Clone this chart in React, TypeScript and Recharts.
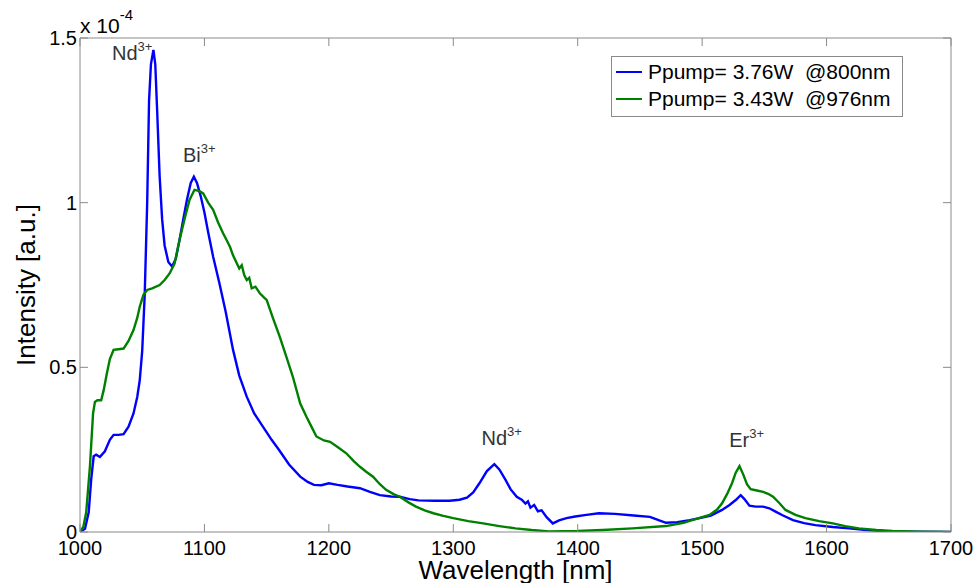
import React from "react";
import { LineChart, Line, XAxis, YAxis, Legend, ReferenceLine, ReferenceDot } from "recharts";

// wavelength (nm) / intensity (x 1e-4 a.u.)
const blueX = [1000, 1004, 1007, 1009, 1011, 1013, 1016, 1020, 1024, 1027, 1031, 1035, 1039, 1043, 1046, 1048, 1050, 1052, 1054, 1055.5, 1057, 1059, 1060.5, 1062, 1064, 1066, 1068, 1071, 1074, 1077, 1080, 1083, 1086, 1089, 1091.5, 1094, 1097, 1100, 1103, 1107, 1112, 1117, 1123, 1128, 1134, 1140, 1147, 1154, 1160, 1168, 1177, 1183, 1188, 1194, 1200, 1207, 1215, 1225, 1233, 1241, 1250, 1257, 1265, 1272, 1285, 1297, 1305, 1311, 1316, 1321, 1327, 1333, 1337, 1342, 1346, 1351, 1355, 1358, 1360, 1362, 1365, 1368, 1371, 1375, 1380, 1385, 1391, 1398, 1407, 1417, 1430, 1445, 1458, 1465, 1471, 1480, 1490, 1498, 1507, 1516, 1522, 1527, 1531, 1534, 1538, 1543, 1549, 1554, 1559, 1565, 1573, 1582, 1591, 1605, 1618, 1632, 1645, 1670, 1700];
const blueY = [0, 0.01, 0.06, 0.16, 0.23, 0.235, 0.228, 0.245, 0.28, 0.295, 0.295, 0.297, 0.32, 0.36, 0.41, 0.46, 0.55, 0.72, 1.0, 1.31, 1.42, 1.464, 1.42, 1.28, 1.08, 0.95, 0.87, 0.82, 0.806, 0.83, 0.887, 0.95, 1.01, 1.06, 1.079, 1.06, 1.02, 0.97, 0.91, 0.836, 0.756, 0.67, 0.553, 0.475, 0.411, 0.36, 0.32, 0.28, 0.249, 0.205, 0.168, 0.152, 0.143, 0.142, 0.148, 0.143, 0.138, 0.133, 0.122, 0.112, 0.108, 0.107, 0.1, 0.096, 0.095, 0.095, 0.098, 0.104, 0.12, 0.148, 0.185, 0.206, 0.19, 0.158, 0.13, 0.107, 0.098, 0.086, 0.093, 0.074, 0.082, 0.063, 0.066, 0.045, 0.026, 0.035, 0.042, 0.047, 0.052, 0.057, 0.055, 0.05, 0.046, 0.036, 0.028, 0.03, 0.036, 0.042, 0.05, 0.067, 0.082, 0.097, 0.112, 0.1, 0.08, 0.077, 0.077, 0.072, 0.062, 0.05, 0.036, 0.027, 0.021, 0.015, 0.011, 0.006, 0.003, 0.001, 0];

const greenX = [1000, 1002.7, 1005, 1008, 1010.5, 1012, 1014, 1017, 1019, 1021.5, 1024, 1027, 1031, 1035, 1039, 1043, 1046, 1048, 1051, 1054, 1058, 1064, 1068, 1072, 1076, 1080, 1084, 1088, 1092, 1096, 1099, 1103, 1107, 1111, 1115, 1118, 1120.5, 1123, 1126, 1128, 1130, 1132, 1134, 1136, 1138, 1141, 1144.5, 1148, 1150, 1155, 1160.5, 1166, 1171, 1177, 1182, 1186, 1190, 1196, 1201, 1207, 1214, 1220, 1225, 1230, 1235.5, 1241, 1246, 1252, 1257, 1264, 1270, 1277, 1284, 1292, 1300, 1312, 1324, 1337, 1350, 1363, 1377, 1400, 1420, 1444, 1471, 1485, 1492, 1500, 1506, 1512, 1516, 1520, 1524, 1527, 1530, 1533, 1536, 1539, 1544, 1549, 1553, 1557, 1562, 1567, 1575, 1583, 1594, 1605, 1615, 1626, 1640, 1653, 1675, 1700];
const greenY = [0, 0.016, 0.06, 0.2, 0.36, 0.395, 0.4, 0.4, 0.43, 0.48, 0.525, 0.553, 0.555, 0.557, 0.58, 0.613, 0.65, 0.684, 0.72, 0.735, 0.74, 0.75, 0.765, 0.785, 0.815, 0.887, 0.95, 1.008, 1.039, 1.035, 1.028, 1.0, 0.978, 0.94, 0.907, 0.885, 0.866, 0.84, 0.816, 0.8, 0.81, 0.78, 0.765, 0.772, 0.74, 0.745, 0.725, 0.712, 0.705, 0.65, 0.593, 0.53, 0.472, 0.39, 0.35, 0.32, 0.29, 0.278, 0.274, 0.258, 0.239, 0.215, 0.198, 0.183, 0.168, 0.145, 0.128, 0.115, 0.107, 0.09, 0.077, 0.066, 0.057, 0.049, 0.042, 0.033, 0.026, 0.018, 0.011, 0.006, 0.002, 0.003, 0.006, 0.011, 0.018, 0.028, 0.036, 0.045, 0.052, 0.068, 0.087, 0.115, 0.148, 0.18, 0.2, 0.175, 0.145, 0.13, 0.126, 0.122, 0.116, 0.107, 0.088, 0.067, 0.052, 0.042, 0.033, 0.026, 0.018, 0.011, 0.006, 0.003, 0.001, 0];

const xTicks = [1000, 1100, 1200, 1300, 1400, 1500, 1600, 1700];
const yTicks = [0, 0.5, 1, 1.5];

const seriesNames = ["Ppump= 3.76W  @800nm", "Ppump= 3.43W  @976nm"];
const seriesColors = ["#0000ff", "#008000"];

// peak labels: [x, y, main text]
const peakLabels: [number, number, string][] = [
  [1025.7, 1.433, "Nd"],
  [1082.7, 1.124, "Bi"],
  [1322.7, 0.264, "Nd"],
  [1521.8, 0.258, "Er"],
];

const blue = blueX.map((x, i) => ({ x, y: blueY[i] }));
const green = greenX.map((x, i) => ({ x, y: greenY[i] }));

const PW = 871;
const PH = 494;
const FONT = "'Liberation Sans', Arial, sans-serif";
const boxColor = "#8a8a8a";

function XTick(props: any) {
  const { x, y, payload } = props;
  return (
    <g>
      <line x1={x} y1={y} x2={x} y2={y - 8} stroke={boxColor} />
      <line x1={x} y1={y - PH} x2={x} y2={y - PH + 8} stroke={boxColor} />
      <text x={x} y={y + 23} textAnchor="middle" fontSize={20} fontFamily={FONT} fill="#000">
        {payload.value}
      </text>
    </g>
  );
}

function YTick(props: any) {
  const { x, y, payload } = props;
  return (
    <g>
      <line x1={x} y1={y} x2={x + 8} y2={y} stroke={boxColor} />
      <line x1={x + PW} y1={y} x2={x + PW - 8} y2={y} stroke={boxColor} />
      <text x={x - 3} y={y + 7} textAnchor="end" fontSize={20} fontFamily={FONT} fill="#000">
        {payload.value}
      </text>
    </g>
  );
}

function PeakLabel({ viewBox, text }: any) {
  const { x, y } = viewBox;
  return (
    <text x={x} y={y} fontSize={20} fontFamily={FONT} fill="#333">
      {text}
      <tspan fontSize={13} dy={-9}>3+</tspan>
    </text>
  );
}

function LegendBox() {
  return (
    <div style={{ border: `1px solid ${boxColor}`, background: "#fff", width: 290, padding: "1px 0 4px 0", fontFamily: FONT, fontSize: 21 }}>
      {seriesNames.map((n, i) => (
        <div key={n} style={{ display: "flex", alignItems: "center", height: 27, whiteSpace: "pre" }}>
          <svg width={36} height={10}>
            <line x1={4} y1={5} x2={30} y2={5} stroke={seriesColors[i]} strokeWidth={2} />
          </svg>
          <span>{n}</span>
        </div>
      ))}
    </div>
  );
}

export default function App() {
  return (
    <div style={{ position: "absolute", left: 0, top: 0, width: 976, height: 583, background: "#fff" }}>
      <LineChart width={976} height={583} margin={{ top: 38, right: 25, left: 0, bottom: 0 }}>
        <XAxis dataKey="x" type="number" domain={[1000, 1700]} ticks={xTicks} tickSize={0} tickMargin={0}
          stroke={boxColor} tick={<XTick />} height={51} allowDataOverflow
          label={{ value: "Wavelength [nm]", position: "insideBottom", offset: 4, fontSize: 26, fontFamily: FONT, fill: "#000" }} />
        <YAxis type="number" domain={[0, 1.5]} ticks={yTicks} tickSize={0} tickMargin={0} width={80}
          stroke={boxColor} tick={<YTick />} allowDataOverflow
          label={{
            content: () => (
              <g fontFamily={FONT} fill="#000">
                <text x={35} y={285} transform="rotate(-90 35 285)" textAnchor="middle" fontSize={26}>Intensity [a.u.]</text>
                <text x={80} y={33} fontSize={21}>x 10<tspan fontSize={15} dy={-13}>-4</tspan></text>
              </g>
            ),
          }} />
        <ReferenceLine y={1.5} stroke={boxColor} />
        <ReferenceLine x={1700} stroke={boxColor} />
        <Line data={blue} dataKey="y" name={seriesNames[0]} stroke={seriesColors[0]} strokeWidth={2.4} dot={false} isAnimationActive={false} />
        <Line data={green} dataKey="y" name={seriesNames[1]} stroke={seriesColors[1]} strokeWidth={2.4} dot={false} isAnimationActive={false} />
        {peakLabels.map(([px, py, t], i) => (
          <ReferenceDot key={i} x={px} y={py} r={0} fill="none" stroke="none" label={<PeakLabel text={t} />} />
        ))}
        <Legend layout="vertical" align="center" verticalAlign="middle" content={<LegendBox />}
          wrapperStyle={{ position: "absolute", left: 611, top: 56, width: 292 }} />
      </LineChart>
    </div>
  );
}
